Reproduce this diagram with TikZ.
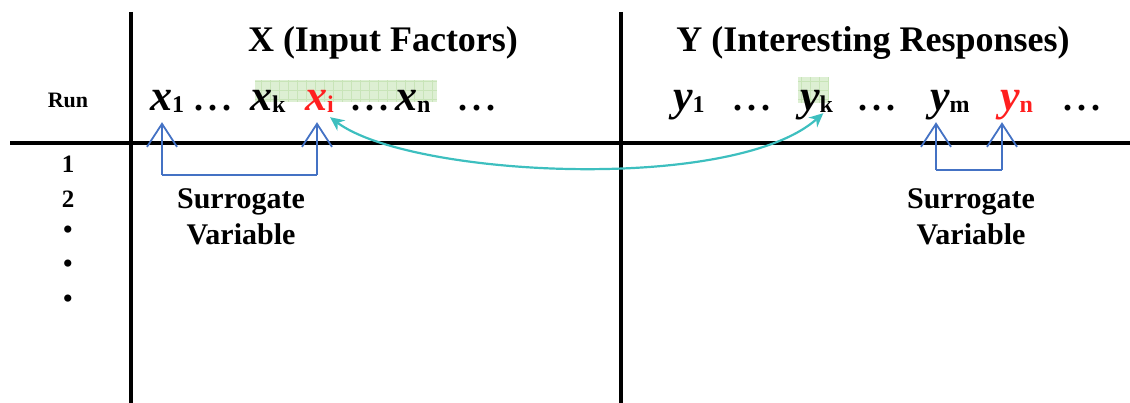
\documentclass[tikz,border=0pt]{standalone}
\usepackage{fontspec}
\setmainfont{Liberation Serif}
\usetikzlibrary{arrows.meta, positioning}

\definecolor{surrblue}{HTML}{4472C4}
\definecolor{linkteal}{HTML}{3DBFBF}
\definecolor{markred}{HTML}{FF1F1F}
\definecolor{markgreen}{HTML}{DDEFD3}
\definecolor{gridgreen}{HTML}{C8E4B8}

\newcommand{\fsz}[1]{\fontsize{#1}{#1}\selectfont}
\newcommand{\factor}[3][black]{\textcolor{#1}{{\fsz{44}\bfseries\itshape #2}{\fsz{24}\bfseries\raisebox{-2pt}{#3}}}}
\newcommand{\gap}{.\hspace{5pt}.\hspace{5pt}.}

\begin{document}
\begin{tikzpicture}[
    x=1pt, y=-1pt,
    bar/.style={line width=4pt},
    title/.style={font=\fsz{36}\bfseries, anchor=base, inner sep=0},
    runlabel/.style={font=\fsz{25}\bfseries, anchor=base, inner sep=0},
    var/.style={anchor=base west, inner sep=0, text depth=11pt},
    ellip/.style={font=\fsz{36}\bfseries, anchor=base west, inner sep=0},
    hilite/.style={fill=markgreen},
    surr/.style={draw=surrblue, line width=1.8pt, -{Straight Barb[length=23pt,width=30pt]}},
    surrline/.style={draw=surrblue, line width=1.8pt},
    note/.style={font=\fsz{30}\bfseries, align=center, inner sep=0, anchor=north},
    link/.style={draw=linkteal, line width=2.2pt, {Stealth[length=14pt,width=13pt]}-{Stealth[length=14pt,width=13pt]}}
]
\useasboundingbox (0,0) rectangle (1130,403);

% -------------------------
% Table frame
% -------------------------
\draw[bar] (10,143) -- (1130,143);
\draw[bar] (131,12) -- (131,403);
\draw[bar] (621,12) -- (621,403);

% Highlights (behind the variables)
\fill[hilite] (255,80) rectangle (437,102);
\draw[gridgreen, line width=0.4pt, step=9pt] (255,80) grid (437,102);
\fill[hilite] (798,77) rectangle (828,103);
\draw[gridgreen, line width=0.4pt, step=9pt] (798,77) grid (828,103);

% Column titles
\node[title] (xtitle) at (383,52) {X (Input Factors)};
\node[title] (ytitle) at (873,52) {Y (Interesting Responses)};

% Run column
\node[runlabel, font=\fsz{22}\bfseries] (run) at (68,108) {Run};
\node[runlabel] (run1) at (68,173) {1};
\node[runlabel] (run2) at (68,208) {2};
\node[runlabel, font=\fsz{30}, anchor=center] (runa) at (68,233) {•};
\node[runlabel, font=\fsz{30}, anchor=center] (runb) at (68,267) {•};
\node[runlabel, font=\fsz{30}, anchor=center] (runc) at (68,302) {•};

% -------------------------
% Input factors
% -------------------------
\node[var] (x1) at (150,111) {\factor{x}{1}};
\node[ellip] (xdots1) at (194,111) {\gap};
\node[var] (xk) at (250,111) {\factor{x}{k}};
\node[var] (xi) at (305,111) {\factor[markred]{x}{i}};
\node[ellip] (xdots2) at (351,111) {\gap};
\node[var] (xn) at (395,111) {\factor{x}{n}};
\node[ellip] (xdots3) at (458,111) {\gap};

% -------------------------
% Responses
% -------------------------
\node[var] (y1) at (673,111) {\factor{y}{1}};
\node[ellip] (ydots1) at (733,111) {\gap};
\node[var] (yk) at (800,111) {\factor{y}{k}};
\node[ellip] (ydots2) at (858,111) {\gap};
\node[var] (ym) at (930,111) {\factor{y}{m}};
\node[var] (yn) at (1000,111) {\factor[markred]{y}{n}};
\node[ellip] (ydots3) at (1063,111) {\gap};

% -------------------------
% Surrogate links
% -------------------------
\coordinate (lbar1) at (162,175);
\coordinate (lbar2) at (317,175);
\draw[surrline] (lbar1) -- (lbar2);
\draw[surr] (lbar1) -- (lbar1 |- x1.south);
\draw[surr] (lbar2) -- (lbar2 |- xi.south);
\node[note] (lnote) at (241,188.5) {Surrogate\\[6pt]Variable};

\coordinate (rbar1) at (936,170);
\coordinate (rbar2) at (1002,170);
\draw[surrline] (rbar1) -- (rbar2);
\draw[surr] (rbar1) -- (rbar1 |- ym.south);
\draw[surr] (rbar2) -- (rbar2 |- yn.south);
\node[note] (rnote) at (971,188.5) {Surrogate\\[6pt]Variable};

% xi <-> yk
\draw[link] ([xshift=-4pt,yshift=5pt]xi.south east)
    .. controls +(80,60) and +(-90,80) .. ([xshift=-10pt,yshift=9pt]yk.south east);

\end{tikzpicture}
\end{document}
